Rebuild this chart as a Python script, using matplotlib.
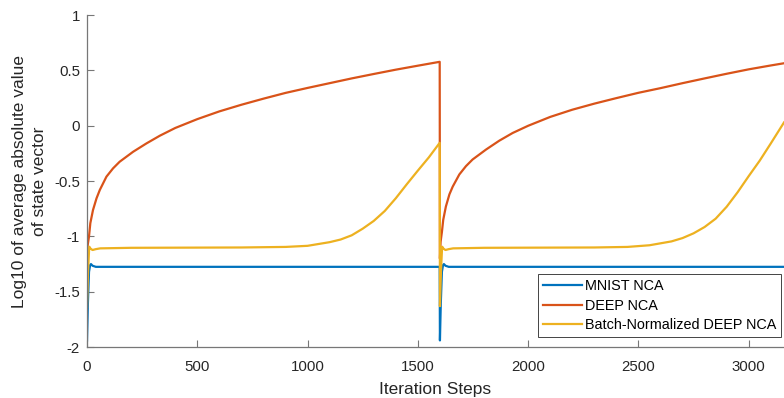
import matplotlib
matplotlib.use('Agg')
import matplotlib.pyplot as plt

plt.rcParams['font.family'] = ['Liberation Sans', 'DejaVu Sans']

# Log10 of mean |state| per iteration, two 1600-step runs back to back
mnist_steps = [0, 4, 9, 14, 18, 25, 40, 100, 1599,
               1600, 1604, 1609, 1614, 1618, 1625, 1640, 1700, 3160]
mnist_vals = [-1.94, -1.6, -1.32, -1.26, -1.25, -1.265, -1.275, -1.275, -1.275,
              -1.94, -1.6, -1.32, -1.26, -1.25, -1.265, -1.275, -1.275, -1.275]

deep_steps = [0, 3, 9, 15, 27, 43, 58, 88, 118, 148, 209, 269, 330, 400, 500, 600, 700, 800,
              900, 1000, 1100, 1200, 1300, 1400, 1500, 1599,
              1600, 1603, 1609, 1615, 1627, 1643, 1658, 1688, 1718, 1748, 1809, 1869, 1930, 2000,
              2100, 2200, 2300, 2400, 2500, 2600, 2700, 2800, 2900, 3000, 3100, 3160]
deep_vals = [-1.2, -1.08, -1.0, -0.88, -0.762, -0.656, -0.58, -0.46, -0.385, -0.325, -0.235, -0.16,
             -0.09, -0.02, 0.06, 0.13, 0.19, 0.245, 0.297, 0.342, 0.385, 0.428, 0.468, 0.507, 0.543, 0.578,
             -1.2, -1.05, -0.96, -0.85, -0.73, -0.62, -0.55, -0.44, -0.365, -0.305, -0.215, -0.135,
             -0.065, 0.0, 0.08, 0.145, 0.2, 0.25, 0.298, 0.34, 0.385, 0.428, 0.47, 0.51, 0.545, 0.565]

bn_steps = [0, 5, 10, 16, 25, 40, 60, 200, 700, 900, 1000, 1100, 1150, 1200, 1250, 1300, 1350,
            1400, 1450, 1500, 1550, 1599,
            1600, 1605, 1610, 1616, 1625, 1640, 1660, 1800, 2300, 2450, 2550, 2650, 2700, 2750,
            2800, 2850, 2900, 2950, 3000, 3050, 3100, 3160]
bn_vals = [-1.636, -1.3, -1.093, -1.11, -1.123, -1.115, -1.108, -1.103, -1.10, -1.095, -1.085,
           -1.052, -1.028, -0.99, -0.93, -0.86, -0.77, -0.655, -0.528, -0.405, -0.285, -0.154,
           -1.63, -1.3, -1.093, -1.11, -1.123, -1.115, -1.108, -1.103, -1.10, -1.095, -1.08,
           -1.045, -1.015, -0.972, -0.915, -0.84, -0.732, -0.60, -0.455, -0.315, -0.16, 0.03]

xticks = [0, 500, 1000, 1500, 2000, 2500, 3000]
yticks = [-2, -1.5, -1, -0.5, 0, 0.5, 1]
ytick_labels = ['-2', '-1.5', '-1', '-0.5', '0', '0.5', '1']

fig = plt.figure(figsize=(7.84, 3.98), dpi=100)
ax = fig.add_axes([0.111, 0.128, 0.889, 0.834])

ax.plot(mnist_steps, mnist_vals, color='#0072BD', lw=1.6, label='MNIST NCA')
ax.plot(deep_steps, deep_vals, color='#D95319', lw=1.6, label='DEEP NCA')
ax.plot(bn_steps, bn_vals, color='#EDB120', lw=1.6, label='Batch-Normalized DEEP NCA')

ax.set_xlim(0, 3160)
ax.set_ylim(-2, 1)
ax.set_xticks(xticks)
ax.set_yticks(yticks)
ax.set_yticklabels(ytick_labels)

for side in ['top', 'right']:
    ax.spines[side].set_visible(False)
for side in ['left', 'bottom']:
    ax.spines[side].set_color('#777777')
    ax.spines[side].set_linewidth(0.9)
ax.tick_params(direction='in', length=5, width=0.8, color='#777777',
               labelcolor='#262626', labelsize=10.8)
ax.tick_params(axis='x', pad=9)
ax.tick_params(axis='y', pad=5)

ax.set_xlabel('Iteration Steps', fontsize=12.5, color='#262626', labelpad=6)
ax.set_ylabel('Log10 of average absolute value\nof state vector', fontsize=12.5,
              color='#262626', labelpad=5, linespacing=1.4)

leg = ax.legend(loc='lower right', bbox_to_anchor=(0.996, 0.03), borderaxespad=0,
                fontsize=10.4, fancybox=False, framealpha=1, edgecolor='#444444',
                handlelength=2.7, handletextpad=0.25, labelspacing=0.4,
                borderpad=0.32)
leg.get_frame().set_linewidth(0.7)

fig.savefig('out.png', dpi=100)
